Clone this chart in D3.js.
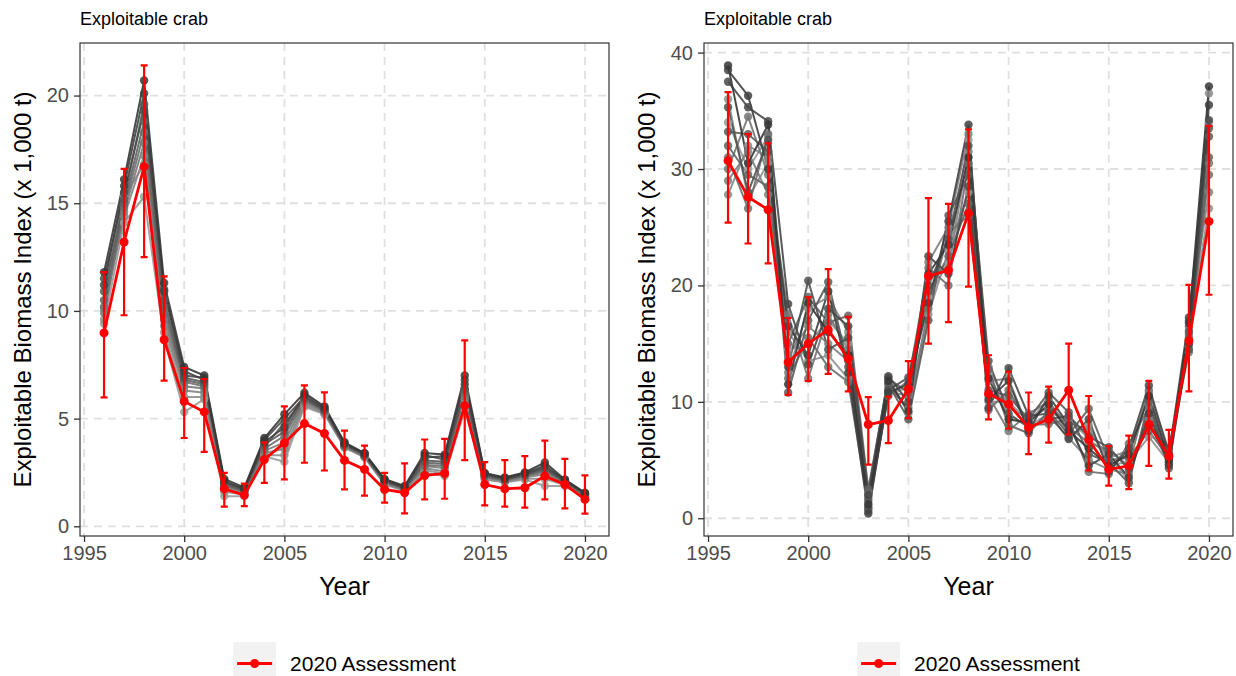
<!DOCTYPE html>
<html>
<head>
<meta charset="utf-8">
<script src="https://cdn.jsdelivr.net/npm/d3@7"></script>
<style>
  html, body { margin: 0; padding: 0; background: #fff; }
  svg { display: block; font-family: "Liberation Sans", Arial, sans-serif; }
</style>
</head>
<body>
<svg id="chart" width="1236" height="676"></svg>
<script>
// Survey years
const years = [1996,1997,1998,1999,2000,2001,2002,2003,2004,2005,2006,2007,2008,
               2009,2010,2011,2012,2013,2014,2015,2016,2017,2018,2019,2020];

const xTicks = [1995, 2000, 2005, 2010, 2015, 2020];
const leftYTicks = [0, 5, 10, 15, 20];
const rightYTicks = [0, 10, 20, 30, 40];

// Left panel: 2020 assessment estimate with interval
const leftAssess = [8.98,13.2,16.7,8.66,5.80,5.31,1.74,1.45,3.10,3.87,4.77,4.31,3.06,
                    2.64,1.71,1.56,2.36,2.45,5.60,1.94,1.74,1.79,2.33,1.94,1.25];
const leftLower  = [5.99,9.8,12.5,6.76,4.10,3.46,0.91,0.94,2.02,2.18,2.95,2.59,1.71,
                    1.42,1.10,0.60,1.25,1.28,3.07,0.97,0.91,0.87,1.25,0.83,0.59];
const leftUpper  = [11.8,16.6,21.4,11.6,7.35,6.84,2.48,1.98,3.90,5.57,6.54,6.22,4.44,
                    3.75,2.48,2.92,4.03,4.06,8.63,2.98,3.07,3.26,3.98,3.13,2.36];

// Left panel: alternative model runs
const leftRuns = [
  [11.8,16.1,20.7,11.3,7.4,7.0,2.2,1.8,4.1,5.2,6.2,5.57,3.9,3.4,2.2,1.87,3.4,3.33,7.0,2.48,2.27,2.5,2.96,2.17,1.56],
  [11.2,15.8,20.1,10.9,7.2,6.8,2.1,1.72,3.9,4.6,6.1,5.5,3.86,3.37,2.15,1.83,3.2,3.25,6.8,2.44,2.24,2.46,2.82,2.14,1.53],
  [11.5,15.5,19.3,11.0,7.0,6.9,2.05,1.75,4.0,5.0,6.0,5.46,3.8,3.35,2.12,1.8,3.3,3.1,6.6,2.4,2.2,2.42,2.75,2.12,1.52],
  [10.9,15.2,19.6,10.5,6.9,6.7,2.0,1.68,3.8,4.4,5.95,5.42,3.82,3.32,2.1,1.78,3.05,3.0,6.4,2.38,2.18,2.4,2.68,2.1,1.5],
  [10.5,15.0,18.8,10.2,6.8,6.6,1.95,1.65,3.7,4.8,5.9,5.38,3.78,3.3,2.08,1.76,2.95,2.9,6.3,2.35,2.16,2.37,2.62,2.08,1.48],
  [10.2,14.8,18.3,9.9,6.7,6.5,1.9,1.62,3.6,4.2,5.85,5.35,3.75,3.28,2.05,1.74,2.85,2.8,6.2,2.32,2.14,2.35,2.58,2.05,1.46],
  [9.9,14.6,17.8,9.6,6.5,6.4,1.85,1.6,3.5,3.9,5.8,5.32,3.72,3.26,2.03,1.72,2.8,2.7,6.05,2.3,2.12,2.32,2.5,2.02,1.44],
  [10.1,14.4,17.2,9.3,6.3,6.2,1.75,1.55,3.4,3.6,5.7,5.28,3.7,3.24,2.0,1.7,2.7,2.55,5.9,2.25,2.1,2.28,2.4,1.98,1.41],
  [9.6,15.3,16.8,9.0,6.0,6.0,1.6,1.48,3.3,3.3,5.62,5.24,3.68,3.22,1.98,1.66,2.6,2.45,5.7,2.2,2.06,2.22,2.2,1.92,1.37],
  [9.4,14.1,15.3,8.7,5.3,5.9,1.4,1.4,3.25,3.0,5.55,5.2,3.65,3.2,1.95,1.63,2.5,2.33,5.4,2.17,2.03,2.17,1.87,1.87,1.34]
];

// Right panel: 2020 assessment estimate with interval
const rightAssess = [30.7,27.6,26.5,13.4,15.0,16.2,13.7,8.05,8.4,11.1,20.8,21.3,26.2,
                     10.7,9.8,7.8,8.5,11.0,6.75,4.2,4.5,8.05,5.35,15.25,25.5];
const rightLower  = [25.4,23.6,21.9,10.6,11.8,12.4,10.9,4.6,6.45,8.6,15.0,16.85,19.9,
                     8.5,7.7,5.5,6.5,7.2,4.1,2.8,2.5,4.5,3.4,10.9,19.2];
const rightUpper  = [36.6,33.0,32.2,17.2,19.0,21.4,17.3,10.4,10.45,13.5,27.5,27.0,33.4,
                     14.0,12.6,10.8,11.3,15.0,10.5,6.2,7.1,11.8,7.6,20.05,33.7];

// Right panel: alternative model runs
const rightRuns = [
  [38.9,30.5,33.8,11.5,18.5,16.0,14.0,1.2,11.8,9.2,21.0,23.5,31.0,12.0,8.5,8.2,9.8,7.5,6.0,4.5,5.5,10.5,5.0,16.8,37.1],
  [38.5,36.3,30.0,16.5,14.0,19.5,12.5,0.4,10.8,11.5,18.5,25.5,33.8,10.2,11.8,7.5,10.5,8.0,4.5,5.5,3.5,9.0,4.6,15.0,35.5],
  [37.5,35.3,34.1,18.4,13.2,18.0,16.5,2.0,12.2,10.0,22.5,21.0,28.5,9.5,12.9,8.8,9.0,6.8,8.5,4.0,6.0,11.4,5.5,17.25,34.2],
  [35.3,28.0,32.5,13.0,20.4,14.5,15.5,0.8,11.0,12.1,20.0,24.0,32.0,13.5,9.0,7.8,8.5,8.8,7.0,6.1,4.2,8.0,6.0,14.5,33.5],
  [33.2,33.0,31.5,10.8,17.0,20.3,13.0,1.6,11.5,8.5,17.0,26.0,29.5,11.0,10.5,8.5,10.8,9.1,5.5,4.8,3.0,10.0,4.3,16.0,32.8],
  [32.0,29.5,28.5,15.0,19.0,16.8,17.4,2.5,12.0,10.8,19.5,22.5,27.0,12.8,8.0,7.3,9.2,7.2,9.4,5.0,5.2,7.5,5.2,15.5,31.0],
  [31.0,26.6,33.0,12.0,15.5,13.0,11.7,1.0,10.5,11.8,21.5,20.0,30.5,9.3,11.0,8.0,8.1,8.5,4.0,3.8,6.4,9.5,4.8,16.5,29.5],
  [30.0,34.5,29.5,17.5,12.0,17.5,14.5,1.8,11.2,9.5,18.0,24.5,26.0,10.5,7.5,9.0,10.0,7.8,6.5,5.8,4.5,11.0,5.8,14.25,30.5],
  [29.0,31.5,27.8,14.0,16.5,15.0,13.5,0.6,10.9,10.5,22.0,25.0,33.0,11.8,12.0,7.6,8.8,6.9,5.0,4.2,3.8,8.5,4.5,17.0,28.0],
  [27.8,32.0,31.0,12.5,18.0,19.0,16.0,1.4,11.6,11.0,20.5,21.5,31.5,13.0,9.5,8.6,9.5,8.2,7.5,5.2,5.8,10.8,5.5,15.8,36.5],
  [36.0,27.5,30.5,16.0,13.5,14.0,12.0,2.2,12.1,9.0,17.5,23.0,28.0,10.0,10.0,8.3,10.2,7.0,8.0,4.6,4.8,7.0,4.8,16.2,26.6],
  [34.0,30.0,32.8,14.5,15.0,17.0,15.0,0.9,10.7,11.2,19.0,22.0,32.5,12.5,8.8,7.9,9.0,8.6,6.8,5.4,3.2,9.8,5.1,14.8,34.0]
];

const panelTitle = "Exploitable crab";
const yTitle = "Exploitable Biomass Index (x 1,000 t)";
const xTitle = "Year";
const legendLabel = "2020 Assessment";

const svg = d3.select("#chart");
const RED = "#FF0000";

function drawPanel(cfg) {
  const { left, right, top, bottom, runs, est, lo, hi, yTicks } = cfg;
  const g = svg.append("g");

  // Data range with 5% padding on each side
  const allY = runs.flat().concat(est, lo, hi);
  const yMin = d3.min(allY), yMax = d3.max(allY);
  const pad = (yMax - yMin) * 0.05;
  const xPad = (years[years.length - 1] - years[0]) * 0.05;

  const x = d3.scaleLinear()
    .domain([years[0] - xPad, years[years.length - 1] + xPad])
    .range([left, right]);
  const y = d3.scaleLinear()
    .domain([yMin - pad, yMax + pad])
    .range([bottom, top]);

  // Grid
  const grid = g.append("g");
  grid.selectAll("line.h").data(yTicks).join("line")
    .attr("x1", left).attr("x2", right)
    .attr("y1", d => y(d)).attr("y2", d => y(d))
    .attr("stroke", "#e0e0e0").attr("stroke-width", 1.8)
    .attr("stroke-dasharray", "8,6");
  grid.selectAll("line.v").data(xTicks).join("line")
    .attr("y1", top).attr("y2", bottom)
    .attr("x1", d => x(d)).attr("x2", d => x(d))
    .attr("stroke", "#e0e0e0").attr("stroke-width", 1.8)
    .attr("stroke-dasharray", "8,6");

  // Model runs
  const shade = d3.scaleLinear().domain([0, runs.length - 1]).range(["#363636", "#9a9a9a"]);
  const line = d3.line().x((d, i) => x(years[i])).y(d => y(d));
  const order = d3.range(runs.length).reverse();
  const runG = g.append("g");
  order.forEach(k => {
    runG.append("path").datum(runs[k])
      .attr("d", line).attr("fill", "none")
      .attr("stroke", shade(k)).attr("stroke-width", 2)
      .attr("stroke-opacity", 0.9);
  });
  order.forEach(k => {
    runG.append("g").selectAll("circle").data(runs[k]).join("circle")
      .attr("cx", (d, i) => x(years[i])).attr("cy", d => y(d))
      .attr("r", 4.2).attr("fill", shade(k)).attr("fill-opacity", 0.85);
  });

  // Assessment intervals, line and points
  const asG = g.append("g");
  const cap = 3.5;
  asG.selectAll("path.err").data(years).join("path")
    .attr("d", (d, i) => {
      const cx = x(d), y1 = y(lo[i]), y2 = y(hi[i]);
      return `M${cx - cap},${y1}H${cx + cap}M${cx},${y1}V${y2}M${cx - cap},${y2}H${cx + cap}`;
    })
    .attr("fill", "none").attr("stroke", RED).attr("stroke-width", 2.2);
  asG.append("path").datum(est)
    .attr("d", line).attr("fill", "none")
    .attr("stroke", RED).attr("stroke-width", 2.8);
  asG.selectAll("circle").data(est).join("circle")
    .attr("cx", (d, i) => x(years[i])).attr("cy", d => y(d))
    .attr("r", 4.5).attr("fill", RED);

  // Panel border
  g.append("rect")
    .attr("x", left).attr("y", top)
    .attr("width", right - left).attr("height", bottom - top)
    .attr("fill", "none").attr("stroke", "#333").attr("stroke-width", 1.2);

  // Axes
  const xAxis = d3.axisBottom(x).tickValues(xTicks).tickFormat(d3.format("d"))
    .tickSize(6).tickPadding(4);
  const yAxis = d3.axisLeft(y).tickValues(yTicks).tickFormat(d3.format("d"))
    .tickSize(6).tickPadding(5);
  const ax = g.append("g").attr("transform", `translate(0,${bottom})`).call(xAxis);
  const ay = g.append("g").attr("transform", `translate(${left},0)`).call(yAxis);
  [ax, ay].forEach(a => {
    a.select(".domain").remove();
    a.selectAll(".tick line").attr("stroke", "#333").attr("stroke-width", 1.3);
    a.selectAll(".tick text").attr("fill", "#4d4d4d")
      .style("font-size", "20px").style("font-family", "Liberation Sans, Arial, sans-serif");
  });

  // Titles
  g.append("text").attr("x", left).attr("y", 25)
    .style("font-size", "18px").attr("fill", "#000").text(panelTitle);
  g.append("text")
    .attr("transform", `translate(${left - 58},${(top + bottom) / 2}) rotate(-90)`)
    .attr("text-anchor", "middle").attr("dominant-baseline", "central")
    .style("font-size", "24px").attr("fill", "#000").text(yTitle);
  g.append("text").attr("x", (left + right) / 2).attr("y", 595)
    .attr("text-anchor", "middle")
    .style("font-size", "25px").attr("fill", "#000").text(xTitle);

  // Legend
  const lg = g.append("g");
  const txt = lg.append("text").attr("y", 671)
    .style("font-size", "21px").attr("fill", "#000").text(legendLabel);
  const tw = txt.node().getComputedTextLength();
  const keyW = 43, gap = 14;
  const cx0 = (left + right) / 2 - (keyW + gap + tw) / 2;
  lg.insert("rect", "text").attr("x", cx0).attr("y", 642)
    .attr("width", keyW).attr("height", 43).attr("fill", "#f2f2f2");
  lg.append("line").attr("x1", cx0 + 4).attr("x2", cx0 + keyW - 4)
    .attr("y1", 663.5).attr("y2", 663.5)
    .attr("stroke", RED).attr("stroke-width", 2.8);
  lg.append("circle").attr("cx", cx0 + keyW / 2).attr("cy", 663.5)
    .attr("r", 4.5).attr("fill", RED);
  txt.attr("x", cx0 + keyW + gap);
}

drawPanel({ left: 80, right: 609, top: 43, bottom: 536,
  runs: leftRuns, est: leftAssess, lo: leftLower, hi: leftUpper, yTicks: leftYTicks });
drawPanel({ left: 704, right: 1233, top: 43, bottom: 536,
  runs: rightRuns, est: rightAssess, lo: rightLower, hi: rightUpper, yTicks: rightYTicks });
</script>
</body>
</html>
